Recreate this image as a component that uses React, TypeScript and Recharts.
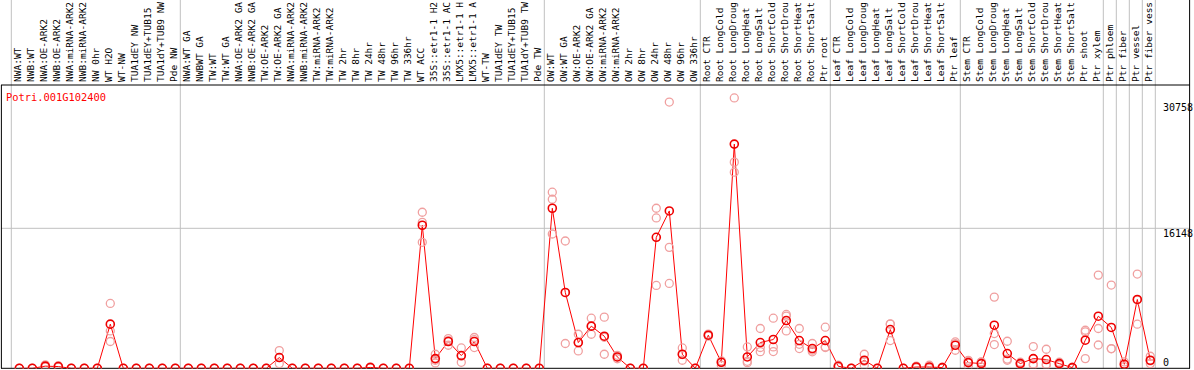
import React from "react";
import { ComposedChart, Line, XAxis, YAxis, ReferenceLine } from "recharts";

const categories = [
  "NWA:WT", "NWB:WT", "NWA:OE-ARK2", "NWB:OE-ARK2", "NWA:miRNA-ARK2", "NWB:miRNA-ARK2", "NW 0hr", "WT H2O", "WT-NW",
  "TUA1dEY NW", "TUA1dEY+TUB15", "TUA1dY+TUB9 NW", "Pde NW", "NWA:WT GA", "NWBWT GA", "TW:WT", "TW:WT GA",
  "NWA:OE-ARK2 GA", "NWB:OE-ARK2 GA", "TW:OE-ARK2", "TW:OE-ARK2 GA", "NWA:miRNA-ARK2", "NWB:miRNA-ARK2",
  "TW:miRNA-ARK2", "TW:miRNA-ARK2", "TW 2hr", "TW 8hr", "TW 24hr", "TW 48hr", "TW 96hr", "TW 336hr", "WT ACC",
  "35S::etr1-1 H2", "35S::etr1-1 AC", "LMX5::etr1-1 H", "LMX5::etr1-1 A", "WT-TW", "TUA1dEY TW",
  "TUA1dEY+TUB15", "TUA1dY+TUB9 TW", "Pde TW", "OW:WT", "OW:WT GA", "OW:OE-ARK2", "OW:OE-ARK2 GA",
  "OW:miRNA-ARK2", "OW:miRNA-ARK2", "OW 2hr", "OW 8hr", "OW 24hr", "OW 48hr", "OW 96hr", "OW 336hr",
  "Root CTR", "Root LongCold", "Root LongDroug", "Root LongHeat", "Root LongSalt", "Root ShortCold",
  "Root ShortDrou", "Root ShortHeat", "Root ShortSalt", "Ptr root", "Leaf CTR", "Leaf LongCold",
  "Leaf LongDroug", "Leaf LongHeat", "Leaf LongSalt", "Leaf ShortCold", "Leaf ShortDrou", "Leaf ShortHeat",
  "Leaf ShortSalt", "Ptr leaf", "Stem CTR", "Stem LongCold", "Stem LongDroug", "Stem LongHeat", "Stem LongSalt",
  "Stem ShortCold", "Stem ShortDrou", "Stem ShortHeat", "Stem ShortSalt", "Ptr shoot", "Ptr xylem",
  "Ptr phloem", "Ptr fiber", "Ptr vessel", "Ptr fiber vess",
];

const meanValues = [
  0, 0, 250, 200, 0, 0, 0, 5090, 0, 0, 0, 0, 0, 0, 0, 0, 0, 0, 0, 0, 1240, 0, 0, 0, 0, 0, 0, 100, 0, 0, 0,
  16500, 1120, 3090, 1470, 3090, 0, 0, 0, 0, 0, 18460, 8750, 2970, 4860, 3700, 1310, 0, 0, 15110, 18150, 1620, 0,
  3820, 690, 25860, 1310, 2970, 3320, 5510, 3200, 2280, 3200, 230, 0, 930, 0, 4470, 0, 150, 150, 80, 2660,
  660, 540, 4970, 1700, 540, 1120, 1010, 540, 80, 3240, 6010, 4710, 460, 7940, 930,
];

const rep1 = [
  0, 0, 400, 300, 0, 0, 0, 7480, 0, 0, 0, 0, 0, 0, 0, 0, 0, 0, 0, 0, 2050, 0, 0, 0, 0, 0, 0, 150, 0, 0, 0,
  18000, 1620, 3430, 2350, 3550, 0, 0, 0, 0, 0, 20310, 14680, 3930, 5780, 5900, 1500, 0, 0, 18460, 30710, 2350, 0,
  3950, 860, 31180, 2460, 4590, 5780, 6210, 4590, 2860, 4740, 350, 0, 1620, 0, 5120, 0, 250, 350, 120, 3040,
  925, 750, 8210, 3120, 700, 2510, 2200, 700, 120, 4390, 10750, 9600, 730, 10870, 1390,
];

const rep2 = [
  0, 0, 200, 150, 0, 0, 0, 4310, 0, 0, 0, 0, 0, 0, 0, 0, 0, 0, 0, 0, 1240, 0, 0, 0, 0, 0, 0, 100, 0, 0, 0,
  16840, 930, 3200, 1400, 3300, 0, 0, 0, 0, 0, 19500, 8720, 2990, 4860, 3580, 1310, 0, 0, 17340, 13950, 1590, 0,
  3820, 690, 23780, 810, 2400, 2460, 6020, 2770, 2100, 2460, 230, 0, 810, 0, 5090, 0, 150, 100, 80, 2850,
  820, 700, 4010, 1060, 540, 510, 480, 540, 80, 4200, 4590, 2280, 460, 7870, 860,
];

const rep3 = [
  0, 0, 150, 150, 0, 0, 0, 3090, 0, 0, 0, 0, 0, 0, 0, 0, 0, 0, 0, 0, 540, 0, 0, 0, 0, 0, 0, 50, 0, 0, 0,
  14530, 610, 2660, 690, 2390, 0, 0, 0, 0, 0, 15490, 2860, 2000, 3930, 1620, 1100, 0, 0, 9560, 9790, 930, 0,
  3700, 350, 22620, 650, 1920, 1930, 4310, 2280, 1900, 2400, 110, 0, 350, 0, 3200, 0, 50, 0, 40, 2080,
  230, 170, 2740, 925, 380, 350, 350, 380, 40, 1120, 2690, 2250, 190, 5090, 540,
];

const groupEnds = [-1, 12, 40, 52, 62, 72, 83, 84, 85, 86, 87];
const yTicks = [0, 16148, 30758];
const title = "Potri.001G102400";

const data = categories.map((c, i) => ({
  idx: i,
  name: c,
  mean: meanValues[i],
  r1: rep1[i],
  r2: rep2[i],
  r3: rep3[i],
}));

const X_MIN = -1.4077;
const X_MAX = 90.054;
const Y_MAX = 42480;
const FRAME_TOP = 32676;

const CatTick = (props: any) => {
  const { x, payload } = props;
  const label = categories[payload.value];
  return (
    <text
      transform={`translate(${x + 2},82) rotate(-90)`}
      fontFamily="DejaVu Sans Mono"
      fontSize={9.5}
      fill="#000"
      textAnchor="start"
    >
      {label}
    </text>
  );
};

const RightLabel = (props: any) => {
  const { viewBox, text, dy } = props;
  return (
    <text x={1163} y={viewBox.y + dy} fontFamily="DejaVu Sans Mono" fontSize={10} fill="#000">
      {text}
    </text>
  );
};

const repDot = { r: 4, stroke: "#f0a0a0", strokeWidth: 1.3, fill: "none" };
const meanDot = { r: 4, stroke: "#ee0000", strokeWidth: 1.6, fill: "none" };

export default function App() {
  return (
    <div style={{ position: "absolute", left: 0, top: 0, width: 1194, height: 370 }}>
      <ComposedChart width={1194} height={370} data={data} margin={{ top: 0, right: 4, left: 1, bottom: 0 }}>
        <XAxis
          dataKey="idx"
          type="number"
          domain={[X_MIN, X_MAX]}
          allowDataOverflow
          ticks={data.map((d) => d.idx)}
          interval={0}
          axisLine={false}
          tickLine={false}
          height={1.7}
          tick={<CatTick />}
        />
        <YAxis hide domain={[0, Y_MAX]} allowDataOverflow />
        {groupEnds.map((g) => (
          <ReferenceLine
            key={"g" + g}
            segment={[
              { x: g + 0.385, y: 0 },
              { x: g + 0.385, y: Y_MAX },
            ]}
            stroke="#c0c0c0"
            strokeWidth={1}
          />
        ))}
        <ReferenceLine
          y={yTicks[1]}
          stroke="#c0c0c0"
          strokeWidth={1}
          label={<RightLabel text={String(yTicks[1])} dy={9} />}
        />
        <ReferenceLine
          y={yTicks[2]}
          stroke="none"
          label={<RightLabel text={String(yTicks[2])} dy={9} />}
        />
        <ReferenceLine
          y={yTicks[0]}
          stroke="#000"
          strokeWidth={1}
          label={<RightLabel text={String(yTicks[0])} dy={-2} />}
        />
        <ReferenceLine y={FRAME_TOP} stroke="#000" strokeWidth={1} />
        <ReferenceLine
          segment={[
            { x: X_MIN + 0.03, y: 0 },
            { x: X_MIN + 0.03, y: FRAME_TOP },
          ]}
          stroke="#000"
          strokeWidth={1}
        />
        <ReferenceLine
          segment={[
            { x: X_MAX - 0.03, y: 0 },
            { x: X_MAX - 0.03, y: Y_MAX },
          ]}
          stroke="#000"
          strokeWidth={1}
        />
        <Line dataKey="r1" stroke="none" dot={repDot} activeDot={false} isAnimationActive={false} />
        <Line dataKey="r2" stroke="none" dot={repDot} activeDot={false} isAnimationActive={false} />
        <Line dataKey="r3" stroke="none" dot={repDot} activeDot={false} isAnimationActive={false} />
        <Line
          dataKey="mean"
          type="linear"
          stroke="#ff0000"
          strokeWidth={1}
          dot={meanDot}
          activeDot={false}
          isAnimationActive={false}
        />
      </ComposedChart>
      <div
        style={{
          position: "absolute",
          left: 6,
          top: 91,
          fontFamily: "DejaVu Sans Mono",
          fontSize: 10.4,
          lineHeight: "12px",
          color: "#ff0000",
          whiteSpace: "nowrap",
        }}
      >
        {title}
      </div>
    </div>
  );
}
